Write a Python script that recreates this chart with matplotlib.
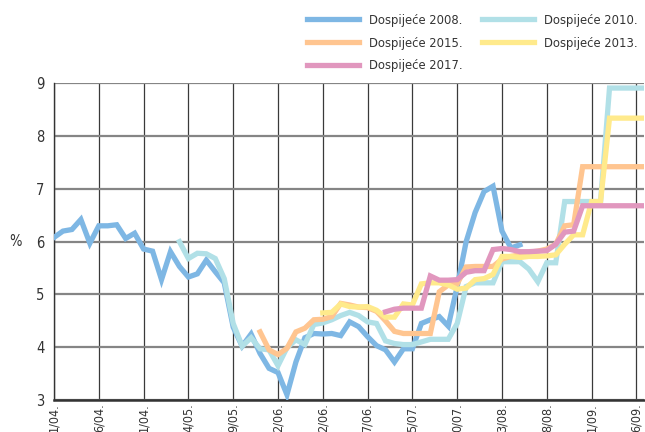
import numpy as np
import matplotlib
matplotlib.use("Agg")
import matplotlib.pyplot as plt

plt.rcParams['font.family'] = ['DejaVu Sans']
plt.rcParams['font.stretch'] = 'condensed'

# prinosi po tjednima, svaka serija krece od svog tjedna
start_2008 = 0
d2008 = [6.08, 6.20, 6.23, 6.42, 5.97, 6.30, 6.30, 6.32, 6.06, 6.16,
         5.86, 5.82, 5.28, 5.81, 5.53, 5.33, 5.39, 5.65, 5.43, 5.22,
         4.38, 4.02, 4.25, 3.88, 3.60, 3.52, 3.10, 3.72, 4.18, 4.26,
         4.25, 4.26, 4.22, 4.48, 4.39, 4.20, 4.03, 3.95, 3.72, 3.97,
         3.97, 4.45, 4.52, 4.58, 4.40, 5.15, 6.00, 6.55, 6.95, 7.05,
         6.20, 5.88, 5.94]

start_2010 = 14
d2010 = [6.00, 5.68, 5.78, 5.77, 5.68, 5.30, 4.45, 4.02, 4.18, 3.97,
         3.95, 3.65, 3.99, 4.14, 4.05, 4.43, 4.46, 4.52, 4.60, 4.66,
         4.60, 4.48, 4.45, 4.12, 4.07, 4.05, 4.05, 4.10, 4.15, 4.15,
         4.15, 4.45, 5.15, 5.22, 5.22, 5.22, 5.62, 5.62, 5.62, 5.48,
         5.24, 5.60, 5.60, 6.76, 6.76, 6.76, 6.76, 6.76, 8.91, 8.91,
         8.91, 8.91, 8.91]

start_2015 = 23
d2015 = [4.29, 3.95, 3.86, 3.98, 4.29, 4.36, 4.52, 4.53, 4.58, 4.83,
         4.80, 4.76, 4.75, 4.68, 4.50, 4.30, 4.26, 4.26, 4.26, 4.26,
         5.05, 5.18, 5.20, 5.52, 5.53, 5.53, 5.53, 5.67, 5.72, 5.75,
         5.80, 5.82, 5.86, 5.95, 6.30, 6.32, 7.42, 7.42, 7.42, 7.42,
         7.42, 7.42, 7.42, 7.42]

start_2013 = 30
d2013 = [4.65, 4.66, 4.82, 4.77, 4.76, 4.77, 4.70, 4.57, 4.57, 4.82,
         4.80, 5.20, 5.22, 5.22, 5.18, 5.10, 5.12, 5.28, 5.30, 5.38,
         5.72, 5.72, 5.70, 5.72, 5.72, 5.73, 5.75, 5.95, 6.13, 6.13,
         6.76, 6.76, 8.34, 8.34, 8.34, 8.34, 8.34]

start_2017 = 37
d2017 = [4.67, 4.72, 4.74, 4.74, 4.74, 5.35, 5.27, 5.27, 5.28, 5.42,
         5.45, 5.45, 5.85, 5.87, 5.85, 5.81, 5.81, 5.82, 5.83, 5.95,
         6.18, 6.20, 6.68, 6.68, 6.68, 6.68, 6.68, 6.68, 6.68, 6.68]

datumi = ["1/04.", "6/04.", "1/04.", "4/05.", "9/05.", "2/06.", "2/06.",
          "7/06.", "5/07.", "0/07.", "3/08.", "8/08.", "1/09.", "6/09."]

serije = [
    ("Dospijeće 2008.", start_2008, d2008, "#7eb7e4"),
    ("Dospijeće 2010.", start_2010, d2010, "#b1e0e7"),
    ("Dospijeće 2015.", start_2015, d2015, "#ffc590"),
    ("Dospijeće 2013.", start_2013, d2013, "#ffea8c"),
    ("Dospijeće 2017.", start_2017, d2017, "#e197be"),
]

fig = plt.figure(figsize=(6.45, 4.32), dpi=100)
ax = fig.add_axes([54/645, 32/432, 590/645, 316.7/432])

linije = {}
for naziv, s, vals, boja in serije:
    x = np.arange(s, s + len(vals))
    l, = ax.plot(x, vals, color=boja, lw=3.8, solid_joinstyle='miter',
                 label=naziv, zorder=3)
    linije[naziv] = l

ax.set_xlim(0, 65.85)
ax.set_ylim(3, 9)
ax.set_xticks(np.arange(0, 66, 5))
ax.set_xticklabels(datumi, rotation=90, va='top', ha='center', fontsize=9)
ax.set_yticks(range(3, 10))

ax.grid(axis='y', color='#858585', lw=1.6, zorder=1)
ax.grid(axis='x', color='#3a3a3a', lw=0.9, zorder=1)
ax.set_axisbelow(True)
for sp in ['top', 'right']:
    ax.spines[sp].set_visible(False)
ax.spines['left'].set_color('#333333')
ax.spines['left'].set_linewidth(1.0)
ax.spines['bottom'].set_color('#333333')
ax.spines['bottom'].set_linewidth(1.8)
ax.tick_params(length=0, colors='#333333')
ax.tick_params(axis='x', pad=2)
ax.tick_params(axis='y', pad=7, labelsize=10.5)

fig.text(15/645, 1 - 241/432, "%", fontsize=10.5, color='#333333',
         ha='center', va='center')

redoslijed = ["Dospijeće 2008.", "Dospijeće 2015.", "Dospijeće 2017.",
              "Dospijeće 2010.", "Dospijeće 2013."]
leg = fig.legend([linije[n] for n in redoslijed], redoslijed, ncol=2,
                 loc='upper left', bbox_to_anchor=(307/645, 1 - 14/432),
                 frameon=False, fontsize=9.3, handlelength=4.0,
                 handletextpad=0.77, columnspacing=1.55, labelspacing=0.75,
                 borderpad=0, borderaxespad=0)
for t in leg.get_texts():
    t.set_color('#333333')
for h in leg.legend_handles:
    h.set_linewidth(3.8)

fig.savefig("out.png", dpi=100)
